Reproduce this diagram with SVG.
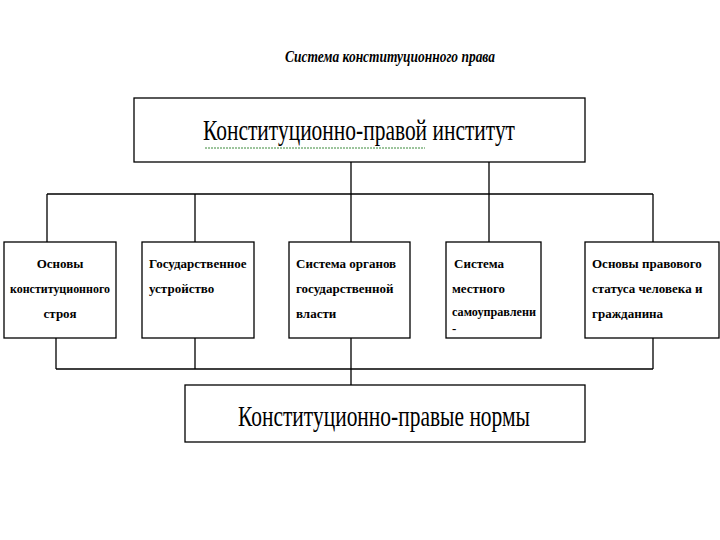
<svg xmlns="http://www.w3.org/2000/svg" width="720" height="540" viewBox="0 0 720 540">
<style>
.b{fill:#fff;stroke:#000;stroke-width:1.3}
.l{stroke:#000;stroke-width:1.3;fill:none}
.s{font-family:"Liberation Serif",serif;font-size:13px;font-weight:bold;fill:#000}
.big{font-family:"Liberation Serif",serif;font-size:30px;fill:#000}
</style>
<rect width="720" height="540" fill="#fff"/>
<text x="390" y="62" text-anchor="middle" font-family="Liberation Serif,serif" font-size="16" font-style="italic" font-weight="bold" textLength="210" lengthAdjust="spacingAndGlyphs">Система конституционного права</text>
<g id="connectors">
<path class="l" d="M351 162V385M489 162V242M47 194H653M47 194V242M195 194V242M653 194V242"/>
<path class="l" d="M56 338V369M195 338V369M653 338V369M56 369H653" stroke-width="2"/>
</g>
<g id="top"><rect class="b" x="134" y="98" width="451" height="64"/>
<text class="big" x="359" y="140" text-anchor="middle" textLength="312" lengthAdjust="spacingAndGlyphs">Конституционно-правой институт</text>
<path d="M205 148H425" stroke="#3a8a3a" stroke-width="1" stroke-dasharray="2 1"/></g>
<g id="n1"><rect class="b" x="4" y="242" width="112" height="96"/>
<text class="s" text-anchor="middle"><tspan x="60" y="268">Основы</tspan><tspan x="60" y="293" textLength="100" lengthAdjust="spacingAndGlyphs">конституционного</tspan><tspan x="60" y="318">строя</tspan></text></g>
<g id="n2"><rect class="b" x="142" y="242" width="112" height="96"/>
<text class="s"><tspan x="149" y="268">Государственное</tspan><tspan x="149" y="293">устройство</tspan></text></g>
<g id="n3"><rect class="b" x="289" y="242" width="121" height="96"/>
<text class="s"><tspan x="296" y="268">Система органов</tspan><tspan x="296" y="293">государственной</tspan><tspan x="296" y="318">власти</tspan></text></g>
<g id="n4"><rect class="b" x="446" y="242" width="95" height="96"/>
<text class="s"><tspan x="454" y="268">Система</tspan><tspan x="452" y="293">местного</tspan><tspan x="452" y="316" textLength="84" lengthAdjust="spacingAndGlyphs">самоуправлени</tspan><tspan x="452" y="333">-</tspan></text></g>
<g id="n5"><rect class="b" x="585" y="242" width="134" height="96"/>
<text class="s"><tspan x="592" y="268">Основы правового</tspan><tspan x="592" y="293">статуса человека и</tspan><tspan x="592" y="318">гражданина</tspan></text></g>
<g id="bottom"><rect class="b" x="185" y="385" width="400" height="57"/>
<text class="big" x="384" y="426" text-anchor="middle" textLength="292" lengthAdjust="spacingAndGlyphs">Конституционно-правые нормы</text></g>
</svg>
